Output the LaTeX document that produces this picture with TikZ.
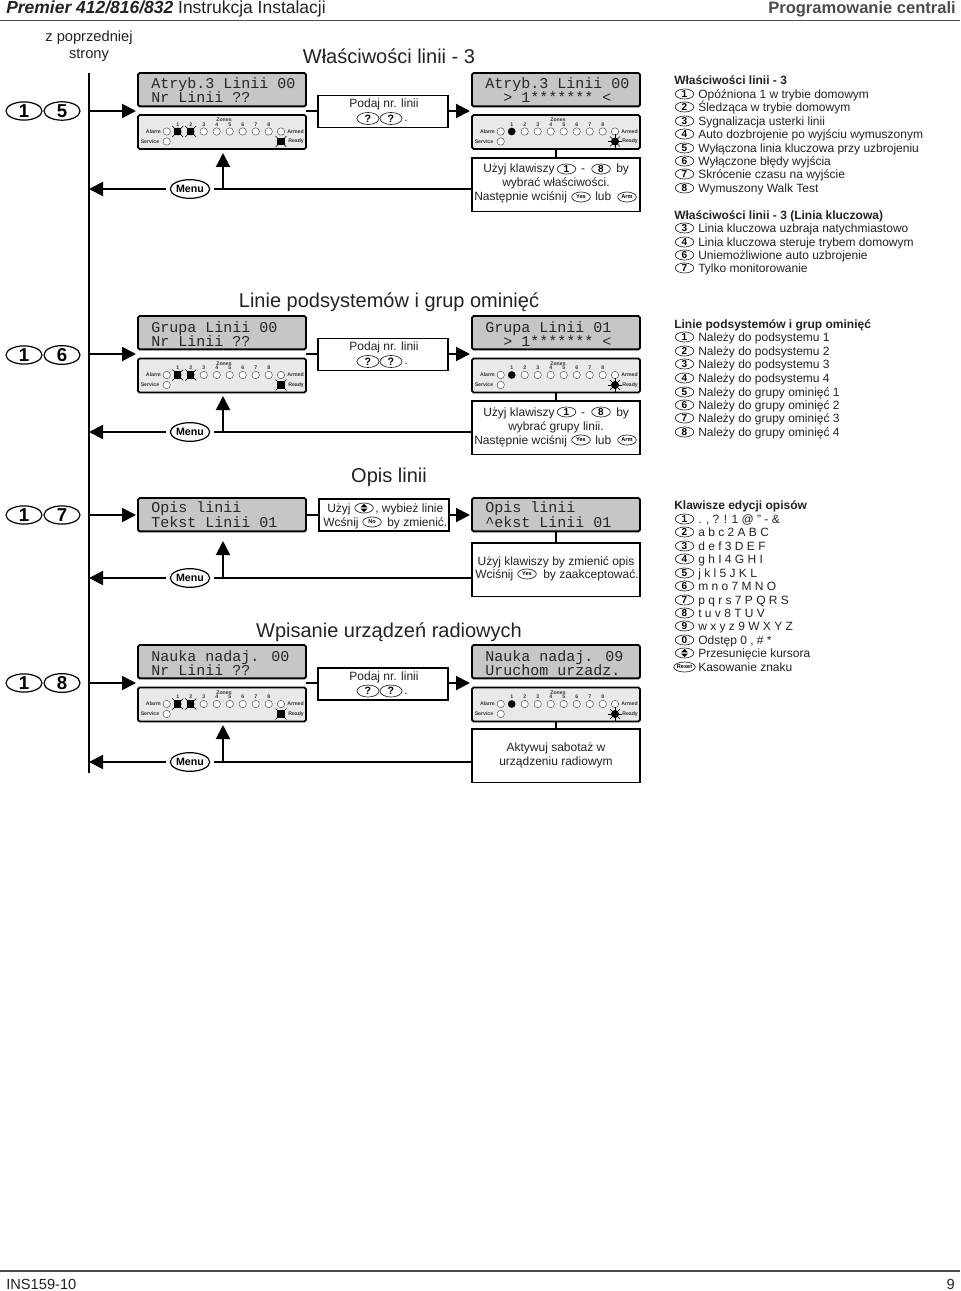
\documentclass[tikz,border=0pt]{standalone}
\usepackage{fontspec}
\setmainfont{Liberation Sans}
\newfontfamily\lcdfont{Liberation Mono}
\usetikzlibrary{shapes.geometric,arrows.meta,calc}
\definecolor{ink}{HTML}{222222}
\definecolor{lcdgray}{HTML}{C6C6C6}
\definecolor{panelgray}{HTML}{E9E9E9}
\newcounter{kn}
\tikzset{
  lcdbox/.style={draw=black,fill=lcdgray,line width=1.4pt,rounded corners=1.2pt,minimum width=126pt,minimum height=25pt,inner sep=0pt,outer sep=0pt,anchor=north west},
  panelbox/.style={draw=black,fill=panelgray,line width=1.4pt,rounded corners=1.2pt,minimum width=126pt,minimum height=25.5pt,inner sep=0pt,outer sep=0pt,anchor=north west},
  msgbox/.style={draw=black,fill=white,line width=.8pt,inner sep=0pt,outer sep=0pt,anchor=north west},
  lcdtext/.style={font=\lcdfont\fontsize{11.25}{13}\selectfont,text=black!85,anchor=base west,inner sep=0pt},
  tx/.style={font=\fontsize{9}{11}\selectfont,text=ink,inner sep=0pt},
  hd/.style={font=\fontsize{15}{18}\selectfont,text=ink,inner sep=0pt,anchor=base},
  bigkey/.style={draw=black,ellipse,line width=.9pt,minimum width=27pt,minimum height=13.5pt,inner sep=0pt,font=\bfseries\fontsize{14}{14}\selectfont},
  smallkey/.style={draw=ink,ellipse,line width=.5pt,minimum width=14pt,minimum height=7.5pt,inner sep=0pt,font=\bfseries\fontsize{7.5}{8}\selectfont},
  tinykey/.style={draw=ink,ellipse,line width=.5pt,minimum width=14pt,minimum height=7.5pt,inner sep=0pt,font=\bfseries\fontsize{4.2}{5}\selectfont},
  qkey/.style={draw=ink,ellipse,line width=.5pt,minimum width=16.5pt,minimum height=9pt,inner sep=0pt,font=\bfseries\fontsize{8}{8}\selectfont},
  menukey/.style={draw=black,ellipse,line width=.9pt,minimum width=27pt,minimum height=14pt,inner sep=0pt,font=\bfseries\fontsize{8}{9}\selectfont},
  conn/.style={draw=black,line width=1.5pt},
  arrowconn/.style={conn,-{Triangle[length=10.5pt,width=10.5pt]}},
  plab/.style={font=\bfseries\fontsize{3.9}{4}\selectfont,text=black!80,inner sep=0pt},
  led/.style={draw=black!70,line width=.35pt,fill=white}
}
\newcommand{\txt}[4]{\stepcounter{kn}\node[tx,anchor=#3] (t\arabic{kn}) at (#1,#2) {#4};}
\newcommand{\keyk}[4][smallkey]{\stepcounter{kn}\node[#1] (k\arabic{kn}) at (#2,#3) {#4};}
\newcommand{\updown}[2]{\stepcounter{kn}\node[smallkey] (k\arabic{kn}) at (#1,#2) {};
  \fill[black] (#1-3.5,#2-.6) -- (#1+3.5,#2-.6) -- (#1,#2-4) -- cycle;
  \fill[black] (#1-3.5,#2+.6) -- (#1+3.5,#2+.6) -- (#1,#2+4) -- cycle;}
\newcommand{\li}[3]{\keyk{684.5}{#1}{#2}\txt{698}{#1+4.2}{base west}{#3}}
\newcommand{\lid}[2]{\txt{674}{#1+4.2}{base west}{\bfseries #2}}
\newcommand{\panelbase}[3]{%
  \node[panelbox] (#1) at (#2,#3) {};
  \node[plab] (#1z) at (#2+86,#3+5) {Zones};
  \node[plab,anchor=east] (#1a) at (#2+23,#3+16.5) {Alarm};
  \node[plab,anchor=west] (#1s) at (#2+2.5,#3+26.5) {Service};
  \node[plab,anchor=west] (#1r) at (#2+149,#3+16.5) {Armed};
  \node[plab,anchor=west] (#1d) at (#2+150,#3+26.5) {Ready};
  \draw[led] (#2+28.7,#3+16.5) circle (3.7);
  \draw[led] (#2+28.7,#3+26.5) circle (3.7);
  \draw[led] (#2+143,#3+16.5) circle (3.7);
  \foreach \i in {1,...,8}{
    \draw[led] ({#2+39.7+13*(\i-1)},#3+16.5) circle (3.7);
    \node[plab] at ({#2+39.7+13*(\i-1)},#3+9.5) {\i};
  }}
\newcommand{\sqled}[2]{%
  \fill[black] (#1-3.6,#2-3.6) rectangle (#1+3.6,#2+3.6);
  \draw[black,line width=.45pt] (#1-5.5,#2-5.5) -- (#1+5.5,#2+5.5) (#1-5.5,#2+5.5) -- (#1+5.5,#2-5.5);}
\newcommand{\burstled}[2]{%
  \fill[black] (#1,#2) circle (4);
  \foreach \a in {0,45,...,315}{\draw[black,line width=.5pt] (#1,#2) -- ++(\a:7);}}
\newcommand{\panelleft}[3]{\panelbase{#1}{#2}{#3}%
  \sqled{#2+39.7}{#3+16.5}\sqled{#2+52.7}{#3+16.5}\sqled{#2+143}{#3+26.5}}
\newcommand{\panelright}[3]{\panelbase{#1}{#2}{#3}%
  \fill[black] (#2+39.7,#3+16.5) circle (3.6);\burstled{#2+143}{#3+26.5}}
\newcommand{\podaj}[2]{%
  \node[msgbox,minimum width=97.5pt,minimum height=24pt] (#2) at (318,#1) {};
  \txt{384}{#1+12}{base}{Podaj nr. linii}
  \keyk[qkey]{368}{#1+23}{?}\keyk[qkey]{391}{#1+23}{?}\txt{404}{#1+26}{base west}{.}}
\newcommand{\usekeys}[2]{%
  \txt{483}{173+#1}{base west}{Użyj klawiszy}\keyk{566.5}{169+#1}{1}\txt{583}{173+#1}{base}{-}\keyk{601}{169+#1}{8}\txt{616}{173+#1}{base west}{by}
  \txt{556}{187+#1}{base}{#2}
  \txt{474}{201+#1}{base west}{Następnie wciśnij}\keyk[tinykey]{581}{197+#1}{Yes}\txt{595}{201+#1}{base west}{lub}\keyk[tinykey]{627}{197+#1}{Arm}}
\begin{document}
\begin{tikzpicture}[x=.75pt,y=-.75pt]
\useasboundingbox (0,0) rectangle (960,1291);
\node[font=\fontsize{13.1}{15}\selectfont,text=ink,anchor=base west,inner sep=0pt] (title) at (6,14) {\textbf{\textit{Premier 412/816/832}} Instrukcja Instalacji};
\node[font=\bfseries\fontsize{12.4}{15}\selectfont,text=black!70,anchor=base east,inner sep=0pt] (titler) at (956,14) {Programowanie centrali};
\coordinate (hl) at (0,20.5);\coordinate (hr) at (960,20.5);
\draw[black!70,line width=.8pt] (hl) -- (hr);
\coordinate (fl) at (0,1271);\coordinate (fr) at (960,1271);
\draw[black!70,line width=.8pt] (fl) -- (fr);
\node[font=\fontsize{11}{13}\selectfont,text=ink,anchor=base west,inner sep=0pt] (foot) at (6,1289) {INS159-10};
\node[font=\fontsize{11}{13}\selectfont,text=ink,anchor=base east,inner sep=0pt] (pg) at (955,1289) {9};
\node[font=\fontsize{11}{12.9}\selectfont,text=ink,align=center,inner sep=0pt] (prev) at (89,46.5) {z poprzedniej\\strony};
\coordinate (bartop) at (89,73);\coordinate (barbot) at (89,773);
\draw[black,line width=2.2pt] (bartop) -- (barbot);
\node[hd] (h1) at (389,64) {Właściwości linii - 3};
\node[hd] (h2) at (389,307) {Linie podsystemów i grup ominięć};
\node[hd] (h3) at (389,482) {Opis linii};
\node[hd] (h4) at (389,637) {Wpisanie urządzeń radiowych};
\foreach \yy/\d in {111/5,355/6,515/7,683/8}{
  \node[bigkey] at (24,\yy) {1};
  \node[bigkey] at (62,\yy) {\d};
}
% row 1
\node[lcdbox] (l1) at (138,73) {};
\node[lcdtext] (l1a) at (151,88.5) {Atryb.3 Linii 00};
\node[lcdtext] (l1b) at (151,103) {Nr Linii ??};
\panelleft{p1}{138}{115}
\node[lcdbox] (r1) at (472,73) {};
\node[lcdtext] (r1a) at (485,88.5) {Atryb.3 Linii 00};
\node[lcdtext] (r1b) at (503,102.5) {> 1******* <};
\panelright{q1}{472}{115}
\podaj{95.5}{b1}
\node[msgbox,minimum width=126pt,minimum height=40pt] (m1) at (472,158) {};
\usekeys{0}{wybrać właściwości.}
\node[menukey] (menu1) at (190,189) {Menu};
\coordinate (in1) at (136,111);\coordinate (in1r) at (470,111);
\draw[arrowconn] (bartop |- in1) -- (in1);
\draw[conn] (l1.east |- in1) -- (b1.west |- in1);
\draw[arrowconn] (b1.east |- in1) -- (in1r);
\draw[conn] (q1.south) -- (m1.north);
\draw[arrowconn] ([xshift=-3pt]menu1.west) -- (bartop |- menu1);
\draw[conn] ([xshift=3pt]menu1.east) -- (m1.west |- menu1);
\coordinate (up1) at (223,153);
\draw[arrowconn] (up1 |- menu1) -- (up1);
% row 2
\node[lcdbox] (l2) at (138,316) {};
\node[lcdtext] (l2a) at (151,332) {Grupa Linii 00};
\node[lcdtext] (l2b) at (151,346) {Nr Linii ??};
\panelleft{p2}{138}{358.5}
\node[lcdbox] (r2) at (472,316) {};
\node[lcdtext] (r2a) at (485,332) {Grupa Linii 01};
\node[lcdtext] (r2b) at (503,346) {> 1******* <};
\panelright{q2}{472}{358.5}
\podaj{338.5}{b2}
\node[msgbox,minimum width=126pt,minimum height=40pt] (m2) at (472,401) {};
\usekeys{243}{wybrać grupy linii.}
\node[menukey] (menu2) at (190,432) {Menu};
\coordinate (in2) at (136,354);\coordinate (in2r) at (470,354);
\draw[arrowconn] (bartop |- in2) -- (in2);
\draw[conn] (l2.east |- in2) -- (b2.west |- in2);
\draw[arrowconn] (b2.east |- in2) -- (in2r);
\draw[conn] (q2.south) -- (m2.north);
\draw[arrowconn] ([xshift=-3pt]menu2.west) -- (bartop |- menu2);
\draw[conn] ([xshift=3pt]menu2.east) -- (m2.west |- menu2);
\coordinate (up2) at (223,396);
\draw[arrowconn] (up2 |- menu2) -- (up2);
% row 3
\node[lcdbox] (l3) at (138,498) {};
\node[lcdtext] (l3a) at (151,512) {Opis linii};
\node[lcdtext] (l3b) at (151,527) {Tekst Linii 01};
\node[lcdbox] (r3) at (472,498) {};
\node[lcdtext] (r3a) at (485,512) {Opis linii};
\node[lcdtext] (r3b) at (485,527) {\textasciicircum ekst Linii 01};
\node[msgbox,minimum width=97.5pt,minimum height=24pt] (b3) at (319,499) {};
\txt{327}{512}{base west}{Użyj}\updown{364}{508}\txt{375}{512}{base west}{, wybież linie}
\txt{323}{526}{base west}{Wcśnij}\keyk[tinykey]{372}{522}{No}\txt{387}{526}{base west}{by zmienić.}
\node[msgbox,minimum width=126pt,minimum height=40pt] (m3) at (472,543) {};
\txt{556}{565}{base}{Użyj klawiszy by zmienić opis}
\txt{475}{578}{base west}{Wciśnij}\keyk[tinykey]{527}{574}{Yes}\txt{543}{578}{base west}{by zaakceptować.}
\node[menukey] (menu3) at (190,578) {Menu};
\coordinate (in3) at (136,515);\coordinate (in3r) at (470,515);
\draw[arrowconn] (bartop |- in3) -- (in3);
\draw[conn] (l3.east |- in3) -- (b3.west |- in3);
\draw[arrowconn] (b3.east |- in3) -- (in3r);
\draw[conn] (r3.south) -- (m3.north);
\draw[arrowconn] ([xshift=-3pt]menu3.west) -- (bartop |- menu3);
\draw[conn] ([xshift=3pt]menu3.east) -- (m3.west |- menu3);
\coordinate (up3) at (223,541);
\draw[arrowconn] (up3 |- menu3) -- (up3);
% row 4
\node[lcdbox] (l4) at (138,645) {};
\node[lcdtext] (l4a) at (151,661) {Nauka nadaj. 00};
\node[lcdtext] (l4b) at (151,675) {Nr Linii ??};
\panelleft{p4}{138}{687.5}
\node[lcdbox] (r4) at (472,645) {};
\node[lcdtext] (r4a) at (485,661) {Nauka nadaj. 09};
\node[lcdtext] (r4b) at (485,675) {Uruchom urzadz.};
\panelright{q4}{472}{687.5}
\podaj{668}{b4}
\node[msgbox,minimum width=126pt,minimum height=40pt] (m4) at (472,729) {};
\node[tx,align=center] (m4t) at (556,755.5) {\fontsize{9}{10.5}\selectfont Aktywuj sabotaż w\\urządzeniu radiowym};
\node[menukey] (menu4) at (190,762) {Menu};
\coordinate (in4) at (136,683);\coordinate (in4r) at (470,683);
\draw[arrowconn] (bartop |- in4) -- (in4);
\draw[conn] (l4.east |- in4) -- (b4.west |- in4);
\draw[arrowconn] (b4.east |- in4) -- (in4r);
\draw[conn] (q4.south) -- (m4.north);
\draw[arrowconn] ([xshift=-3pt]menu4.west) -- (bartop |- menu4);
\draw[conn] ([xshift=3pt]menu4.east) -- (m4.west |- menu4);
\coordinate (up4) at (223,725);
\draw[arrowconn] (up4 |- menu4) -- (up4);
% right column
\lid{80}{Właściwości linii - 3}
\li{94}{1}{Opóźniona 1 w trybie domowym}
\li{107}{2}{Śledząca w trybie domowym}
\li{121}{3}{Sygnalizacja usterki linii}
\li{134}{4}{Auto dozbrojenie po wyjściu wymuszonym}
\li{148}{5}{Wyłączona linia kluczowa przy uzbrojeniu}
\li{161}{6}{Wyłączone błędy wyjścia}
\li{174}{7}{Skrócenie czasu na wyjście}
\li{188}{8}{Wymuszony Walk Test}
\lid{215}{Właściwości linii - 3 (Linia kluczowa)}
\li{228}{3}{Linia kluczowa uzbraja natychmiastowo}
\li{242}{4}{Linia kluczowa steruje trybem domowym}
\li{255}{6}{Uniemożliwione auto uzbrojenie}
\li{268}{7}{Tylko monitorowanie}
\lid{324}{Linie podsystemów i grup ominięć}
\li{337}{1}{Należy do podsystemu 1}
\li{351}{2}{Należy do podsystemu 2}
\li{364}{3}{Należy do podsystemu 3}
\li{378}{4}{Należy do podsystemu 4}
\li{392}{5}{Należy do grupy ominięć 1}
\li{405}{6}{Należy do grupy ominięć 2}
\li{418}{7}{Należy do grupy ominięć 3}
\li{432}{8}{Należy do grupy ominięć 4}
\lid{505}{Klawisze edycji opisów}
\li{519}{1}{. , ? ! 1 @ " - \&}
\li{532}{2}{a b c 2 A B C}
\li{546}{3}{d e f 3 D E F}
\li{559}{4}{g h I 4 G H I}
\li{573}{5}{j k l 5 J K L}
\li{586}{6}{m n o 7 M N O}
\li{600}{7}{p q r s 7 P Q R S}
\li{613}{8}{t u v 8 T U V}
\li{626}{9}{w x y z 9 W X Y Z}
\li{640}{0}{Odstęp 0 , \# *}
\updown{684.5}{653}\txt{698}{657.2}{base west}{Przesunięcie kursora}
\keyk[tinykey]{684.5}{667}{Reset}\txt{698}{671.2}{base west}{Kasowanie znaku}
\end{tikzpicture}
\end{document}
